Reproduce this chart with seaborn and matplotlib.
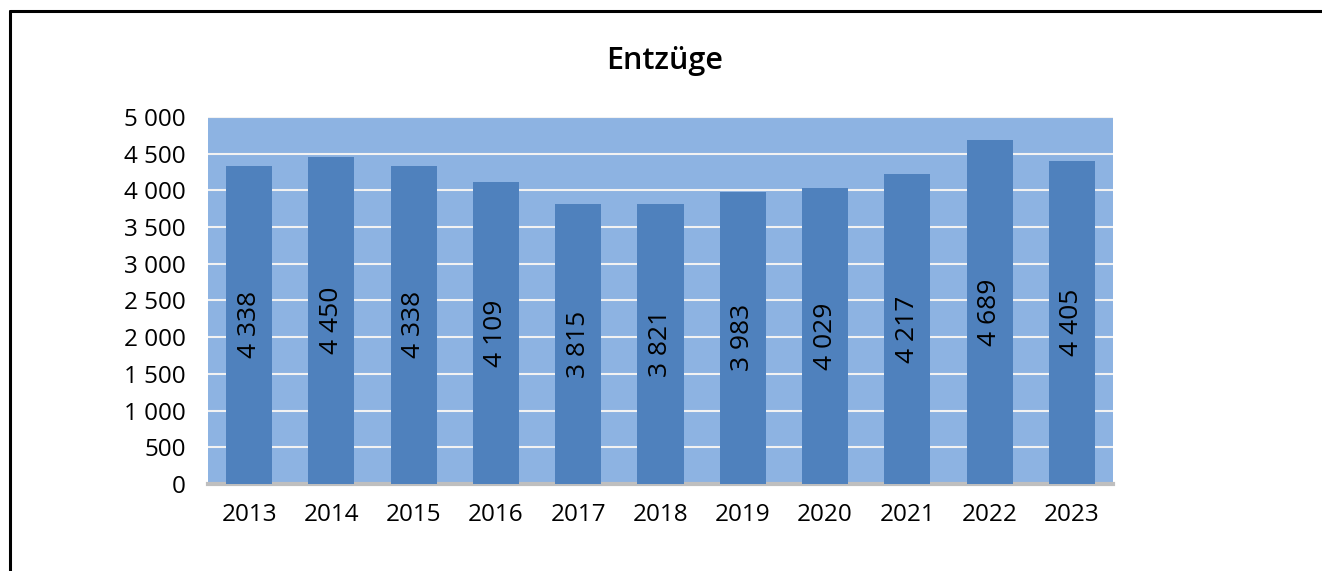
import matplotlib
matplotlib.use("Agg")
import matplotlib.pyplot as plt
from matplotlib.lines import Line2D
import seaborn as sns
import pandas as pd

# Daten
years = ["2013", "2014", "2015", "2016", "2017", "2018", "2019", "2020", "2021", "2022", "2023"]
values = [4338, 4450, 4338, 4109, 3815, 3821, 3983, 4029, 4217, 4689, 4405]
yticks = [0, 500, 1000, 1500, 2000, 2500, 3000, 3500, 4000, 4500, 5000]

df = pd.DataFrame({"year": years, "value": values})

sns.set_theme(style="white")
plt.rcParams["font.family"] = ["Open Sans", "DejaVu Sans"]


def fmt(v):
    return f"{v:,}".replace(",", " ")


fig = plt.figure(figsize=(13.22, 5.71), dpi=100)
ax = fig.add_axes([0.1573, 0.1524, 0.6846, 0.6427])
ax.set_facecolor("#8DB3E2")

sns.barplot(data=df, x="year", y="value", color="#4F81BD", width=0.56,
            saturation=1, linewidth=0, ax=ax, zorder=3)

ax.set_ylim(0, 5000)
ax.set_xlim(-0.5, len(years) - 0.5)
ax.set_yticks(yticks)
ax.set_yticklabels([fmt(t) for t in yticks])
ax.yaxis.grid(True, color="#F2F2F2", linewidth=1.5, zorder=1)
ax.set_axisbelow(True)
ax.set_xlabel("")
ax.set_ylabel("")
ax.tick_params(axis="x", length=0, pad=14, labelsize=17.5, labelcolor="black")
ax.tick_params(axis="y", length=0, pad=16, labelsize=17.5, labelcolor="black")

for s in ["top", "left", "right"]:
    ax.spines[s].set_visible(False)
ax.spines["bottom"].set_color("#BFBFBF")
ax.spines["bottom"].set_linewidth(3)

for i, v in enumerate(values):
    ax.text(i, v / 2, fmt(v), rotation=90, ha="center", va="center",
            fontsize=19, color="black", zorder=4)

fig.text(0.503, 0.893, "Entzüge", ha="center", va="center",
         fontsize=22, fontweight="semibold", color="black")

# Rahmen
fig.add_artist(Line2D([0.0076, 0.0076], [0, 0.9807], color="black", linewidth=2.2))
fig.add_artist(Line2D([0.0076, 1.0], [0.9807, 0.9807], color="black", linewidth=2.2))

fig.savefig("out.png", dpi=100)
